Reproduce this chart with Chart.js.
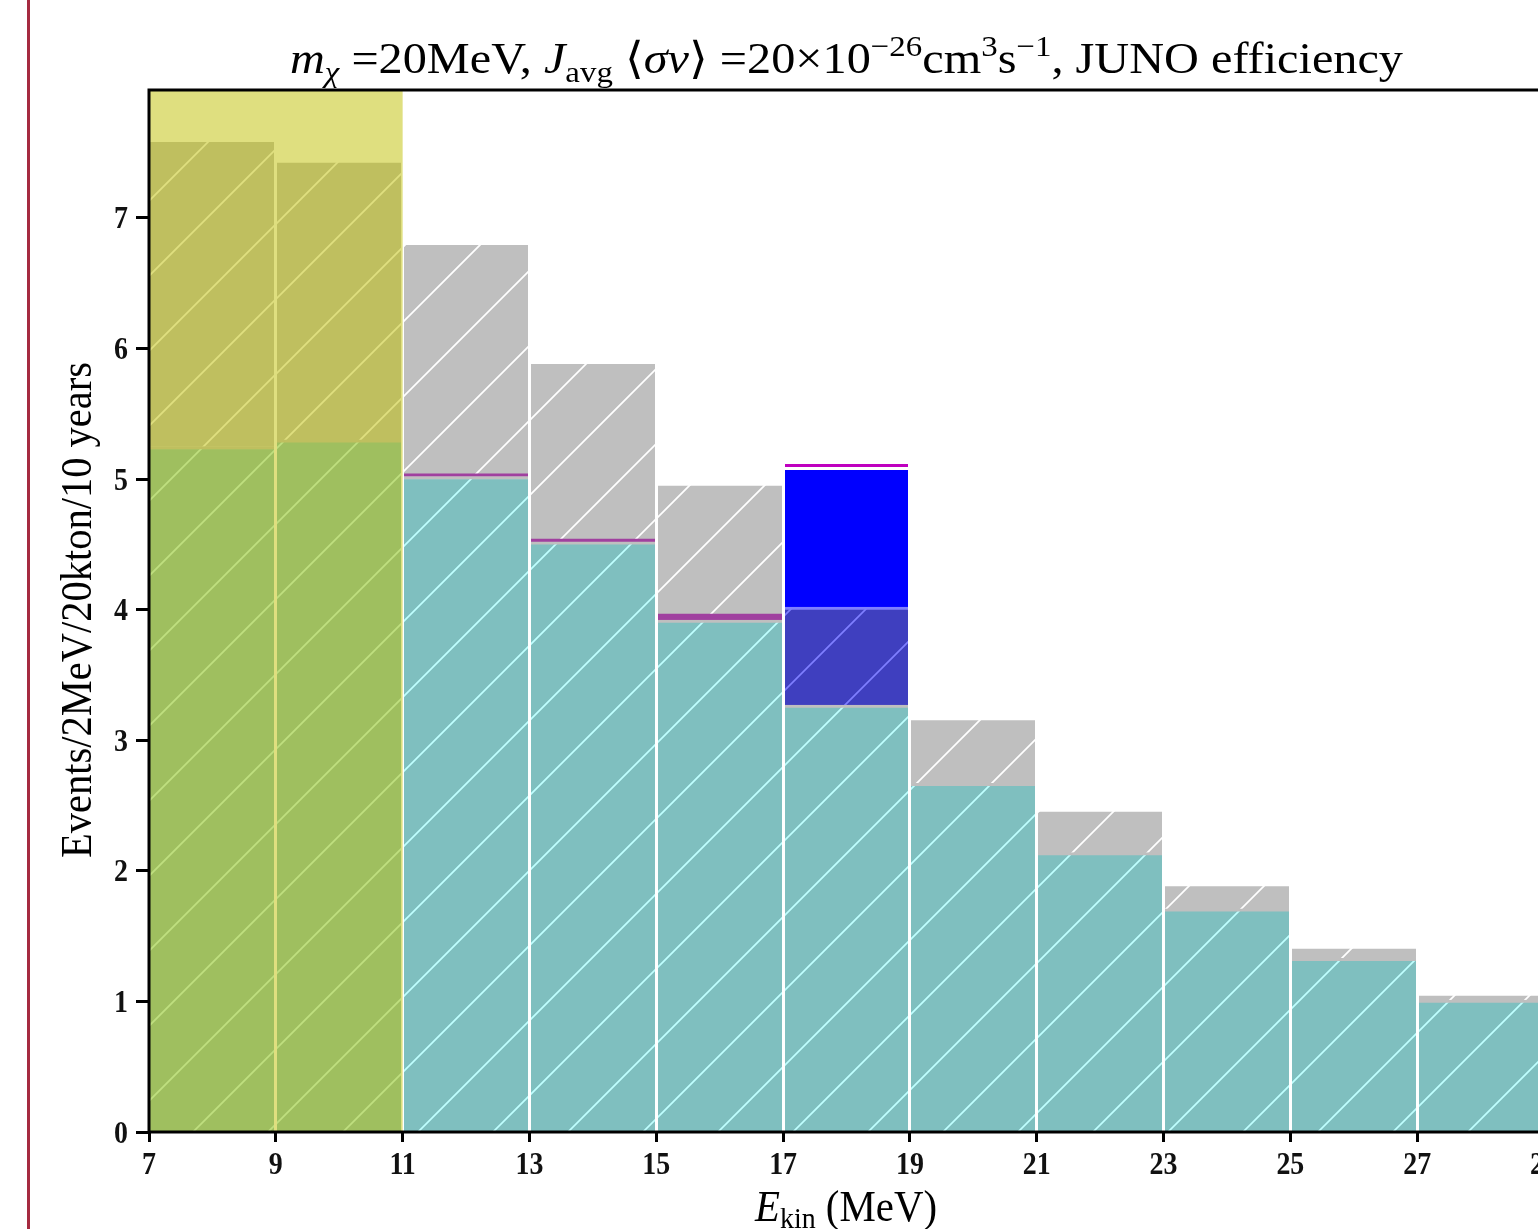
<!DOCTYPE html>
<html><head><meta charset="utf-8">
<script src="https://cdn.jsdelivr.net/npm/chart.js@4/dist/chart.umd.min.js"></script>
<style>
html,body{margin:0;padding:0;background:#fff;overflow:hidden;width:1538px;height:1229px;}
#wrap{position:absolute;left:0;top:0;width:1600px;height:1229px;}
#frame{position:absolute;left:27px;top:0;width:2.5px;height:1229px;background:#a52a40;}
</style></head><body>
<div id="wrap"><canvas id="c" width="1600" height="1229" style="width:1600px;height:1229px"></canvas></div>
<div id="frame"></div>
<script>
// Bin centres (bins are 2 MeV wide, 7..29 MeV)
const binCenters = [8, 10, 12, 14, 16, 18, 20, 22, 24, 26, 28];
// Stacked layers (events per bin)
const tealBg   = [5.25, 5.30, 5.02, 4.52, 3.92, 3.27, 2.67, 2.14, 1.71, 1.33, 1.01];
const purpleBg = [null, null, 0.02, 0.02, 0.046, null, null, null, null, null, null];
const grayBg   = [2.33, 2.12, 1.75, 1.34, 0.98, null, 0.48, 0.31, 0.17, 0.07, 0.03];
const sigLow   = [null, null, null, null, null, 0.75, null, null, null, null, null];
const sigHigh  = [null, null, null, null, null, 1.07, null, null, null, null, null];
const sigLine  = [null, null, null, null, null, 0.023, null, null, null, null, null];
const xRange = [7, 29];
const yRange = [0, 7.98];
const shadedRange = [7, 11];

const titleText = {m:'m', chi:'χ', a:' =20MeV, ', J:'J', avg:'avg', b:' ⟨', sv:'σv', c:'⟩ =20×10', e1:'−26', d:'cm', e2:'3', s:'s', e3:'−1', tail:', JUNO efficiency'};
const xTitle = ['E', 'kin', ' (MeV)'];
const yTitle = 'Events/2MeV/20kton/10 years';

const canvas = document.getElementById('c');
const ctx0 = canvas.getContext('2d');

function hatch(bg, line) {
  const c = document.createElement('canvas');
  c.width = 75; c.height = 75;
  const g = c.getContext('2d');
  g.fillStyle = bg; g.fillRect(0, 0, 75, 75);
  if (line) {
    g.strokeStyle = line; g.lineWidth = 1.7;
    g.beginPath();
    for (const C of [-25, 50, 125, 200]) {
      g.moveTo(-5, C + 5); g.lineTo(C + 5, -5);
    }
    g.stroke();
  }
  return ctx0.createPattern(c, 'repeat');
}

const toXY = arr => binCenters.map((c, i) => ({x: c, y: arr[i]}));
const base = {barPercentage: 1, categoryPercentage: 1, borderSkipped: 'start', borderWidth: 0};

const SERIF = '"Liberation Serif", "DejaVu Serif", serif';
function drawRich(ctx, segs, x0, base, target) {
  let w = 0;
  for (const s of segs) { ctx.font = s.f; w += ctx.measureText(s.t).width; }
  const sx = target / w;
  ctx.save();
  ctx.translate(x0, base);
  ctx.scale(sx, 1);
  ctx.fillStyle = '#000';
  ctx.textBaseline = 'alphabetic';
  ctx.textAlign = 'left';
  let x = 0;
  for (const s of segs) { ctx.font = s.f; ctx.fillText(s.t, x, s.dy || 0); x += ctx.measureText(s.t).width; }
  ctx.restore();
}
function drawLabel(ctx, txt, x, y, align) {
  ctx.save();
  ctx.font = 'bold 31px ' + SERIF;
  ctx.fillStyle = '#111';
  ctx.textBaseline = 'alphabetic';
  const w = ctx.measureText(txt).width * 0.9;
  ctx.translate(align === 'right' ? x - w : x - w / 2, y);
  ctx.scale(0.9, 1);
  ctx.fillText(txt, 0, 0);
  ctx.restore();
}

const decor = {
  id: 'decor',
  afterDraw(chart) {
    const ctx = chart.ctx, a = chart.chartArea, xs = chart.scales.x, ys = chart.scales.y;
    // shaded (yellow) region
    ctx.save();
    ctx.fillStyle = 'rgba(191,191,0,0.5)';
    const x1 = xs.getPixelForValue(shadedRange[0]), x2 = xs.getPixelForValue(shadedRange[1]);
    ctx.fillRect(x1, a.top, x2 - x1, a.bottom - a.top);
    // frame
    ctx.strokeStyle = '#000'; ctx.lineWidth = 3;
    ctx.strokeRect(a.left, a.top, a.right - a.left, a.bottom - a.top);
    ctx.restore();
    // tick labels
    for (const t of xs.ticks) drawLabel(ctx, String(t.value), xs.getPixelForValue(t.value), 1174, 'center');
    for (const t of ys.ticks) drawLabel(ctx, String(t.value), 128, ys.getPixelForValue(t.value) + 10.5, 'right');
    const R = '44px ' + SERIF, I = 'italic 44px ' + SERIF, S = '30px ' + SERIF, SI = 'italic 30px ' + SERIF;
    const T = titleText;
    drawRich(ctx, [
      {t:T.m, f:I}, {t:T.chi, f:SI, dy:9}, {t:T.a, f:R}, {t:T.J, f:I}, {t:T.avg, f:S, dy:9},
      {t:T.b, f:R}, {t:T.sv, f:I}, {t:T.c, f:R}, {t:T.e1, f:S, dy:-17}, {t:T.d, f:R},
      {t:T.e2, f:S, dy:-17}, {t:T.s, f:R}, {t:T.e3, f:S, dy:-17}, {t:T.tail, f:R}
    ], 290, 73, 1113);
    drawRich(ctx, [{t:xTitle[0], f:I}, {t:xTitle[1], f:S, dy:7}, {t:xTitle[2], f:R}], 755, 1221, 182);
    ctx.save();
    ctx.translate(91, 858);
    ctx.rotate(-Math.PI / 2);
    drawRich(ctx, [{t:yTitle, f:'45px ' + SERIF}], 0, 0, 496);
    ctx.restore();
  }
};

new Chart(canvas, {
  type: 'bar',
  data: {
    datasets: [
      Object.assign({}, base, {label:'teal', data: toXY(tealBg), backgroundColor: hatch('#7fbfbf', '#bfffff'), borderColor: '#bfbfbf', borderWidth: {top: 3, left: 0, right: 0, bottom: 0}}),
      Object.assign({}, base, {label:'purple', data: toXY(purpleBg), backgroundColor: '#a0409f'}),
      Object.assign({}, base, {label:'gray', data: toXY(grayBg), backgroundColor: hatch('#bfbfbf', '#ffffff')}),
      Object.assign({}, base, {label:'sigLow', data: toXY(sigLow), backgroundColor: hatch('#3f3fbf', '#7f7fff'), borderColor: '#7f7fff', borderWidth: {top: 3, left: 0, right: 0, bottom: 0}}),
      Object.assign({}, base, {label:'sigHigh', data: toXY(sigHigh), backgroundColor: '#0000ff', borderColor: '#ffffff', borderWidth: {top: 3, left: 0, right: 0, bottom: 0}}),
      Object.assign({}, base, {label:'sigLine', data: toXY(sigLine), backgroundColor: '#bf00bf'})
    ]
  },
  options: {
    responsive: false,
    animation: false,
    devicePixelRatio: 1,
    layout: {padding: {top: 90, left: 0, right: 56, bottom: 0}},
    plugins: {legend: {display: false}, tooltip: {enabled: false}, title: {display: false}},
    scales: {
      x: {
        type: 'linear', stacked: true, offset: false, min: xRange[0], max: xRange[1],
        border: {display: false},
        grid: {
          z: 1, offset: false, drawOnChartArea: true, lineWidth: 3,
          color: c => (c.tick && (c.tick.value === xRange[0] || c.tick.value === xRange[1])) ? 'rgba(0,0,0,0)' : '#ffffff',
          tickColor: '#000', tickWidth: 3, tickLength: 10
        },
        ticks: {stepSize: 2, autoSkip: false, maxRotation: 0, display: false},
        afterFit: s => { s.height = 97; }
      },
      y: {
        stacked: true, min: yRange[0], max: yRange[1],
        border: {display: false},
        grid: {drawOnChartArea: false, tickColor: '#000', tickWidth: 3, tickLength: 13},
        ticks: {stepSize: 1, display: false},
        afterBuildTicks: s => { s.ticks = s.ticks.filter(t => Number.isInteger(t.value)); },
        afterFit: s => { s.width = 149; }
      }
    }
  },
  plugins: [decor]
});
</script>
</body></html>
